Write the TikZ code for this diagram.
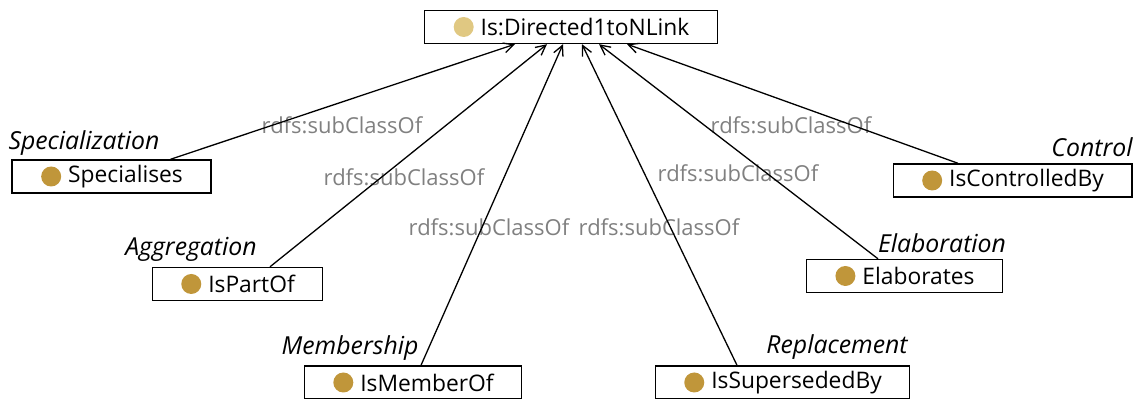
\documentclass[tikz,border=0pt]{standalone}
\usepackage{fontspec}
\setmainfont{Open Sans}
\usetikzlibrary{arrows.meta, calc}
\definecolor{topdot}{RGB}{224,200,130}
\definecolor{classdot}{RGB}{192,150,58}
\definecolor{relgray}{RGB}{128,128,128}

\begin{document}
\begin{tikzpicture}[x=0.5pt, y=-0.5pt,
        cls/.style={draw, line width=0.7pt, minimum height=16.5pt, inner xsep=14pt, inner ysep=0pt,
            font=\fontsize{11.4}{13}\selectfont, execute at begin node={\hspace*{14pt}},
            path picture={\fill[#1] ([xshift=19.5pt]path picture bounding box.west) circle (5pt);}},
        cls/.default=classdot,
        sub/.style={line width=0.65pt, -{Straight Barb[length=5pt, width=5pt]}},
        rel/.style={text=relgray, inner sep=0pt, font=\fontsize{11}{13}\selectfont},
        kind/.style={inner sep=0pt, font=\fontsize{12.4}{14}\selectfont\itshape}]
    \useasboundingbox (0,0) rectangle (1136,399);

    \node[cls=topdot] (top) at (571,27) {Is:Directed1toNLink};
    \node[cls] (spec) at (111.5,176.5) {Specialises};
    \node[cls] (part) at (237.5,284) {IsPartOf};
    \node[cls] (member) at (413,382.5) {IsMemberOf};
    \node[cls] (super) at (782.5,382.5) {IsSupersededBy};
    \node[cls] (elab) at (904.5,276) {Elaborates};
    \node[cls] (ctrl) at (1012.5,180.5) {IsControlledBy};

    \node[kind] (specl) at (84,143) {Specialization};
    \node[kind] (partl) at (191,249) {Aggregation};
    \node[kind] (memberl) at (350,348) {Membership};
    \node[kind] (superl) at (837,347) {Replacement};
    \node[kind] (elabl) at (942,243) {Elaboration};
    \node[kind] (ctrll) at (1092,147) {Control};

    \node[rel] (r1) at (342,125) {rdfs:subClassOf};
    \node[rel] (r2) at (404,177) {rdfs:subClassOf};
    \node[rel] (r3) at (489,227) {rdfs:subClassOf};
    \node[rel] (r4) at (659,227) {rdfs:subClassOf};
    \node[rel] (r5) at (738,173) {rdfs:subClassOf};
    \node[rel] (r6) at (791,125) {rdfs:subClassOf};

    \draw[sub] ($(spec.north)+(59,0)$) -- ($(top.south)+(-56,0)$);
    \draw[sub] ($(part.north)+(32.5,0)$) -- ($(top.south)+(-24,0)$);
    \draw[sub] ($(member.north)+(8,0)$) -- ($(top.south)+(-8,0)$);
    \draw[sub] ($(super.north)+(-45.5,0)$) -- ($(top.south)+(11,0)$);
    \draw[sub] ($(elab.north)+(-26.5,0)$) -- ($(top.south)+(28,0)$);
    \draw[sub] ($(ctrl.north)+(-54.5,0)$) -- ($(top.south)+(56,0)$);
\end{tikzpicture}
\end{document}
